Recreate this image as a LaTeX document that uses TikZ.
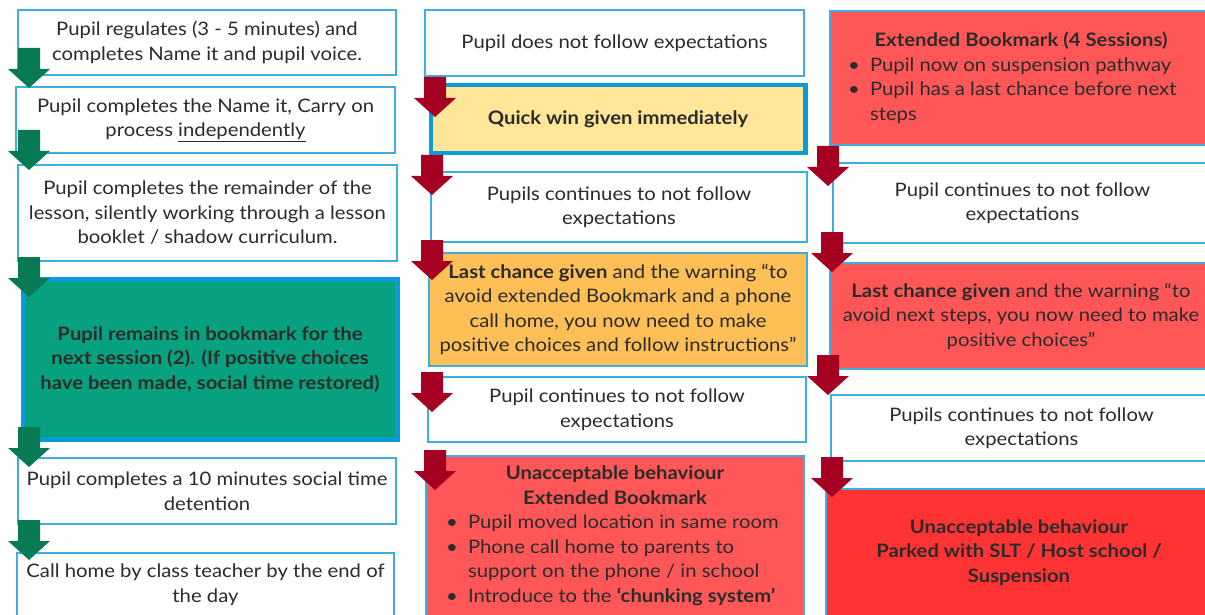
\documentclass[tikz,border=0pt]{standalone}
\usepackage{fontspec}
\setmainfont{Lato}[FakeStretch=1.09]

\definecolor{boxblue}{HTML}{3DAEE0}
\definecolor{heavyblue}{HTML}{0A9BD9}
\definecolor{txt}{HTML}{2B2B2B}
\definecolor{stepgreen}{HTML}{08A17F}
\definecolor{arrgreen}{HTML}{077A55}
\definecolor{arrred}{HTML}{A50021}
\definecolor{quickyellow}{HTML}{FFE699}
\definecolor{warnorange}{HTML}{FFBF57}
\definecolor{softred}{HTML}{FF5757}
\definecolor{hardred}{HTML}{FF3333}

% bullet lines of a fixed width
\newcommand{\bitem}[2]{\makebox[#1][l]{\makebox[22pt][l]{\textbullet}#2}}
\newcommand{\bcont}[2]{\makebox[#1][l]{\hspace{22pt}#2}}

\begin{document}
\begin{tikzpicture}[x=1pt, y=-1pt,
  box/.style={draw=boxblue, line width=1.3pt, fill=white, text=txt, align=center,
    inner sep=0pt, font=\fontsize{18.6}{24.5}\selectfont},
  heavybox/.style={box, draw=heavyblue, line width=4.5pt}]

\useasboundingbox [fill=white] (0,0) rectangle (1205,615);

% left column
\node [box, minimum width=378, minimum height=65] (regulate) at (207,42.5)
  {Pupil regulates (3 - 5 minutes) and\\completes Name it and pupil voice.};
\node [box, minimum width=379, minimum height=66] (nameit) at (205.5,120)
  {Pupil completes the Name it, Carry on\\process \underline{independently}};
\node [box, minimum width=379, minimum height=96] (remainder) at (207.5,213)
  {Pupil completes the remainder of the\\lesson, silently working through a lesson\\booklet / shadow curriculum.};
\node [heavybox, fill=stepgreen, font=\fontsize{18.6}{24.5}\selectfont\bfseries,
  minimum width=374.5, minimum height=160] (remains) at (210,359.5)
  {Pupil remains in bookmark for the\\next session (2). (If positive choices\\have been made, social time restored)};
\node [box, minimum width=378, minimum height=66] (detention) at (207,491)
  {Pupil completes a 10 minutes social time\\detention};
\node [box, minimum width=377, minimum height=63] (callhome) at (205.5,584.5)
  {Call home by class teacher by the end of\\the day};

% middle column
\node [box, minimum width=379, minimum height=66] (notfollow) at (614.5,43)
  {Pupil does not follow expectations};
\node [heavybox, fill=quickyellow, font=\fontsize{18.6}{24.5}\selectfont\bfseries,
  minimum width=374.5, minimum height=68] (quickwin) at (618,119)
  {Quick win given immediately};
\node [box, minimum width=376, minimum height=70] (continuesA) at (619,207)
  {Pupils continues to not follow\\expectations};
\node [box, fill=warnorange, minimum width=378, minimum height=113] (lastchanceA) at (618,309.5)
  {\textbf{Last chance given} and the warning “to\\avoid extended Bookmark and a phone\\call home, you now need to make\\positive choices and follow instructions”};
\node [box, minimum width=378, minimum height=65] (continuesB) at (617,409.5)
  {Pupil continues to not follow\\expectations};
\node [box, fill=softred, minimum width=378, minimum height=160] (unaccA) at (615,536)
  {\textbf{Unacceptable behaviour}\\\textbf{Extended Bookmark}\\
   \bitem{338pt}{Pupil moved location in same room}\\
   \bitem{338pt}{Phone call home to parents to}\\
   \bcont{338pt}{support on the phone / in school}\\
   \bitem{338pt}{Introduce to the \textbf{‘chunking system’}}};

% right column
\node [box, fill=softred, minimum width=382, minimum height=134] (extended) at (1021,78)
  {\textbf{Extended Bookmark (4 Sessions)}\\
   \bitem{346pt}{Pupil now on suspension pathway}\\
   \bitem{346pt}{Pupil has a last chance before next}\\
   \bcont{346pt}{steps}};
\node [box, minimum width=379, minimum height=80] (continuesC) at (1022.5,203)
  {Pupil continues to not follow\\expectations};
\node [box, fill=softred, minimum width=382, minimum height=106] (lastchanceB) at (1021,316)
  {\textbf{Last chance given} and the warning “to\\avoid next steps, you now need to make\\positive choices”};
\node [box, minimum width=381, minimum height=66] (continuesD) at (1021.5,428)
  {Pupils continues to not follow\\expectations};
\node [box, fill=hardred, font=\fontsize{18.6}{24.5}\selectfont\bfseries,
  minimum width=386, minimum height=127] (unaccB) at (1019,552.5)
  {Unacceptable behaviour\\Parked with SLT / Host school /\\Suspension};

% block arrows, given by their tips
\foreach \x/\y in {29/88, 29/170, 29/297, 29/467, 29/560}
  \fill [arrgreen] (\x-11,\y-40) -- (\x+11,\y-40) -- (\x+11,\y-19) -- (\x+21,\y-19) --
    (\x,\y) -- (\x-21,\y-19) -- (\x-11,\y-19) -- cycle;
\foreach \x/\y in {435/117, 432/195, 432/280, 432/412, 435/490,
                   828/186, 832/272, 828/395, 832/497}
  \fill [arrred] (\x-11,\y-40) -- (\x+11,\y-40) -- (\x+11,\y-19) -- (\x+21,\y-19) --
    (\x,\y) -- (\x-21,\y-19) -- (\x-11,\y-19) -- cycle;

\end{tikzpicture}
\end{document}
